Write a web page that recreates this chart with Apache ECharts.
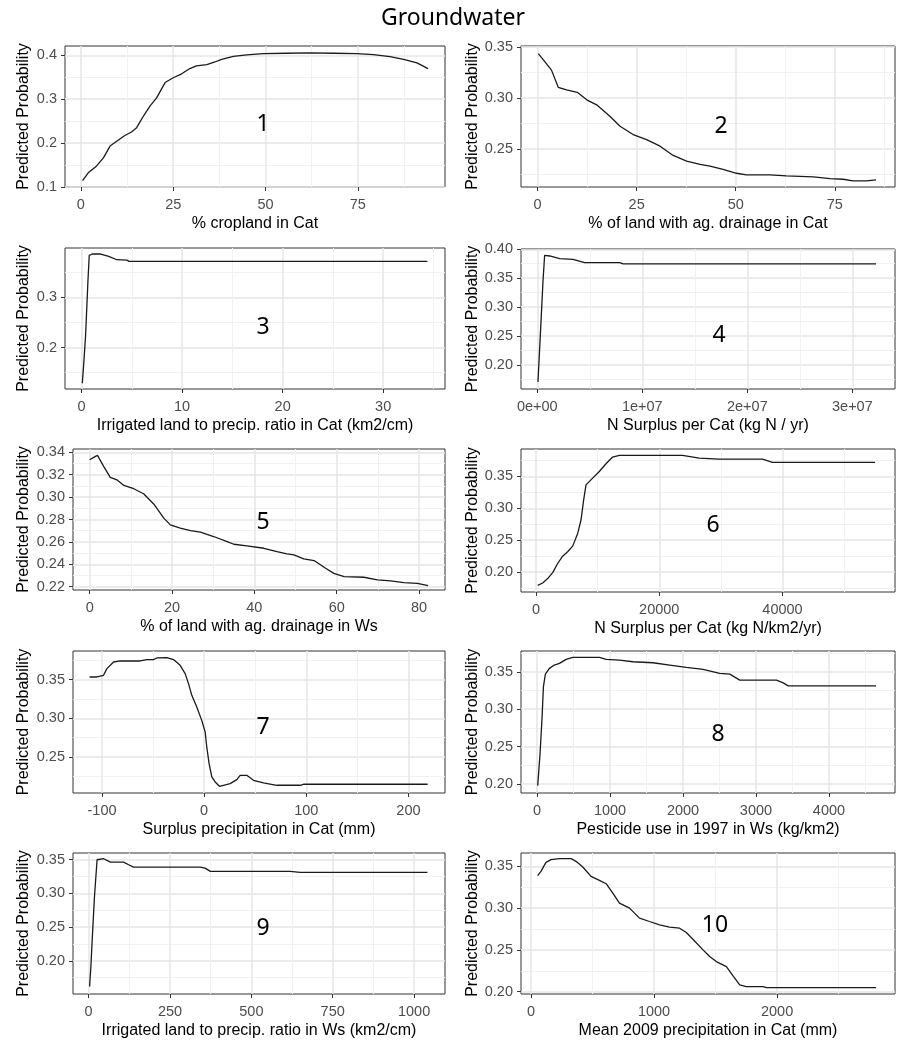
<!DOCTYPE html>
<html><head><meta charset="utf-8">
<script src="https://cdn.jsdelivr.net/npm/echarts@6/dist/echarts.min.js"></script>
<style>html,body{margin:0;padding:0;background:#fff}#c{width:906px;height:1050px}</style>
</head><body><div id="c"></div>
<script>
// ---------- data ----------
const chartTitle = 'Groundwater';
const yAxisTitle = 'Predicted Probability';
const xTitles = [
  '% cropland in Cat',
  '% of land with ag. drainage in Cat',
  'Irrigated land to precip. ratio in Cat (km2/cm)',
  'N Surplus per Cat (kg N / yr)',
  '% of land with ag. drainage in Ws',
  'N Surplus per Cat (kg N/km2/yr)',
  'Surplus precipitation in Cat (mm)',
  'Pesticide use in 1997 in Ws (kg/km2)',
  'Irrigated land to precip. ratio in Ws (km2/cm)',
  'Mean 2009 precipitation in Cat (mm)'
];
const panelNumbers = ['1','2','3','4','5','6','7','8','9','10'];

const p1X = [0.45,2.0,4.2,6.1,7.9,9.7,11.9,13.7,15.1,16.9,18.7,20.5,22.8,25.0,27.3,29.5,31.3,34.1,36.3,38.1,41.3,44.9,49.4,55.7,62.1,68.4,74.7,79.2,83.7,87.4,91.0,94.0];
const p1Y = [0.114,0.132,0.147,0.166,0.193,0.204,0.217,0.225,0.235,0.261,0.284,0.303,0.338,0.349,0.358,0.370,0.376,0.379,0.385,0.391,0.398,0.401,0.404,0.405,0.406,0.405,0.404,0.402,0.397,0.391,0.383,0.370];

const p2X = [0.17,1.85,3.5,5.2,7.3,10.0,12.4,14.9,18.3,20.8,24.1,27.5,30.9,34.2,37.6,41.0,43.5,46.8,50.2,52.7,58.6,62.8,69.6,73.8,77.1,79.6,83.0,85.4];
const p2Y = [0.3435,0.3354,0.3273,0.3104,0.3078,0.3055,0.2981,0.2932,0.2818,0.2721,0.2640,0.2591,0.2526,0.2435,0.2380,0.2347,0.2331,0.2299,0.2260,0.2244,0.2244,0.2234,0.2224,0.2208,0.2201,0.2185,0.2185,0.2195];

const p3X = [0.07,0.23,0.4,0.63,0.76,1.06,1.9,2.7,3.5,4.5,4.7,11.8,34.4];
const p3Y = [0.1287,0.172,0.2253,0.332,0.384,0.3867,0.3867,0.382,0.3753,0.3747,0.372,0.372,0.372];

const p4X = [64000,290000,540000,700000,1180000,2130000,3400000,4510000,7850000,8170000,32250000];
const p4Y = [0.170,0.2509,0.3434,0.3896,0.3884,0.3838,0.3827,0.3769,0.3769,0.3746,0.3746];

const p5X = [0,1.38,1.9,3.4,5.0,6.6,8.3,10.7,13.1,15.6,18.0,19.6,22.0,24.5,26.9,30.1,33.4,35.0,38.2,42.3,45.5,47.9,49.6,52.0,54.5,57.3,59.3,61.8,66.6,69.9,73.1,76.3,79.6,82.2];
const p5Y = [0.3334,0.3364,0.3373,0.3275,0.3176,0.3155,0.3104,0.3075,0.3030,0.2937,0.2812,0.2752,0.2722,0.2701,0.2687,0.2648,0.2603,0.2579,0.2564,0.2543,0.2513,0.2493,0.2484,0.2448,0.2433,0.2364,0.2319,0.2290,0.2284,0.2260,0.2251,0.2236,0.2230,0.2209];

const p6X = [270,1080,1890,2700,3510,4320,5130,5950,6760,7300,7730,8110,9190,10270,11350,12430,13510,23780,26490,29730,36760,38380,55030];
const p6Y = [0.1789,0.1826,0.1895,0.1989,0.2132,0.2247,0.2316,0.2405,0.2605,0.2816,0.3132,0.3368,0.3474,0.3579,0.3700,0.3805,0.3832,0.3832,0.3789,0.3774,0.3774,0.3721,0.3721];

const p7X = [-112.2,-105.0,-98.5,-95.2,-88.7,-82.2,-62.6,-56.1,-49.6,-46.3,-36.5,-30.0,-23.5,-18.6,-15.3,-12.1,-7.2,-2.3,1.0,2.6,4.9,7.5,10.8,15.0,18.9,25.4,32.0,35.2,41.7,48.3,58.0,71.1,93.9,97.2,218.8];
const p7Y = [0.3534,0.3534,0.3556,0.3642,0.3728,0.3741,0.3741,0.3759,0.3759,0.3780,0.3784,0.3759,0.3685,0.3578,0.3448,0.3297,0.3147,0.2970,0.2823,0.2625,0.2410,0.2241,0.2177,0.2121,0.2134,0.2155,0.2207,0.2263,0.2263,0.2198,0.2164,0.2134,0.2134,0.2147,0.2147];

const p8X = [9,41,69,87,114,169,238,307,398,490,856,947,1130,1314,1588,1817,2046,2275,2503,2641,2778,2870,3281,3373,3442,4645];
const p8Y = [0.1977,0.2403,0.2895,0.3298,0.3469,0.3545,0.3590,0.3612,0.3666,0.3693,0.3693,0.3666,0.3657,0.3634,0.3621,0.3590,0.3558,0.3531,0.3478,0.3469,0.3388,0.3388,0.3388,0.3352,0.3312,0.3312];

const p9X = [3,7,12,18,26,29,46,67,107,123,138,343,358,374,619,650,1041];
const p9Y = [0.1619,0.1916,0.2411,0.2955,0.35,0.3515,0.3515,0.3465,0.3465,0.3426,0.3391,0.3391,0.3376,0.3327,0.3327,0.3312,0.3312];

const p10X = [54,81,122,163,231,326,366,421,488,556,611,665,719,801,882,963,1045,1126,1208,1262,1316,1398,1452,1506,1588,1642,1696,1750,1886,1913,2803];
const p10Y = [0.3388,0.344,0.3548,0.358,0.3592,0.3592,0.356,0.3492,0.338,0.3332,0.3292,0.318,0.306,0.300,0.288,0.284,0.280,0.2772,0.276,0.2708,0.2628,0.250,0.242,0.236,0.230,0.2188,0.208,0.206,0.206,0.2048,0.2048];

// tick values (major / minor) and axis ranges
const p1XTicks = [0,25,50,75], p1XMinor = [12.5,37.5,62.5,87.5], p1YTicks = [0.1,0.2,0.3,0.4], p1YMinor = [0.15,0.25,0.35];
const p2XTicks = [0,25,50,75], p2XMinor = [12.5,37.5,62.5,87.5], p2YTicks = [0.25,0.30,0.35], p2YMinor = [0.225,0.275,0.325];
const p3XTicks = [0,10,20,30], p3XMinor = [5,15,25,35], p3YTicks = [0.2,0.3], p3YMinor = [0.15,0.25,0.35];
const p4XTicks = [0,1e7,2e7,3e7], p4XMinor = [5e6,1.5e7,2.5e7], p4YTicks = [0.20,0.25,0.30,0.35,0.40], p4YMinor = [0.175,0.225,0.275,0.325,0.375];
const p4XLabels = ['0e+00','1e+07','2e+07','3e+07'];
const p5XTicks = [0,20,40,60,80], p5XMinor = [10,30,50,70], p5YTicks = [0.22,0.24,0.26,0.28,0.30,0.32,0.34], p5YMinor = [0.23,0.25,0.27,0.29,0.31,0.33];
const p6XTicks = [0,20000,40000], p6XMinor = [10000,30000,50000], p6YTicks = [0.20,0.25,0.30,0.35], p6YMinor = [0.175,0.225,0.275,0.325,0.375];
const p7XTicks = [-100,0,100,200], p7XMinor = [-50,50,150], p7YTicks = [0.25,0.30,0.35], p7YMinor = [0.225,0.275,0.325,0.375];
const p8XTicks = [0,1000,2000,3000,4000], p8XMinor = [500,1500,2500,3500,4500], p8YTicks = [0.20,0.25,0.30,0.35], p8YMinor = [0.225,0.275,0.325,0.375];
const p9XTicks = [0,250,500,750,1000], p9XMinor = [125,375,625,875], p9YTicks = [0.20,0.25,0.30,0.35], p9YMinor = [0.175,0.225,0.275,0.325];
const p10XTicks = [0,1000,2000], p10XMinor = [500,1500,2500], p10YTicks = [0.20,0.25,0.30,0.35], p10YMinor = [0.225,0.275,0.325];

// ---------- layout ----------
const panels = [
  {xs:p1X, ys:p1Y, xr:[-4.3,98.6], yr:[0.0995,0.4215], xt:p1XTicks, xm:p1XMinor, yt:p1YTicks, ym:p1YMinor, yd:1, g:[65,46,380,141], num:[263,124]},
  {xs:p2X, ys:p2Y, xr:[-4.2,90.2], yr:[0.2125,0.351], xt:p2XTicks, xm:p2XMinor, yt:p2YTicks, ym:p2YMinor, yd:2, g:[521,46,374,141], num:[721,126]},
  {xs:p3X, ys:p3Y, xr:[-1.65,36.15], yr:[0.1173,0.3987], xt:p3XTicks, xm:p3XMinor, yt:p3YTicks, ym:p3YMinor, yd:1, g:[65,248,380,141], num:[263,327]},
  {xs:p4X, ys:p4Y, xr:[-1.55e6,3.406e7], yr:[0.158,0.4005], xt:p4XTicks, xm:p4XMinor, yt:p4YTicks, ym:p4YMinor, yd:2, xl:p4XLabels, g:[521,249,374,140], num:[719,335]},
  {xs:p5X, ys:p5Y, xr:[-4.05,86.3], yr:[0.217,0.343], xt:p5XTicks, xm:p5XMinor, yt:p5YTicks, ym:p5YMinor, yd:2, g:[73,449,372,141], num:[263,522]},
  {xs:p6X, ys:p6Y, xr:[-2440,58260], yr:[0.1684,0.3932], xt:p6XTicks, xm:p6XMinor, yt:p6YTicks, ym:p6YMinor, yd:2, g:[521,449,374,143], num:[713,525]},
  {xs:p7X, ys:p7Y, xr:[-128.4,235.8], yr:[0.2034,0.387], xt:p7XTicks, xm:p7XMinor, yt:p7YTicks, ym:p7YMinor, yd:2, g:[73,651,372,142], num:[263,727]},
  {xs:p8X, ys:p8Y, xr:[-220,4905], yr:[0.1878,0.3778], xt:p8XTicks, xm:p8XMinor, yt:p8YTicks, ym:p8YMinor, yd:2, g:[521,651,374,142], num:[718,734]},
  {xs:p9X, ys:p9Y, xr:[-48,1095], yr:[0.1507,0.360], xt:p9XTicks, xm:p9XMinor, yt:p9YTicks, ym:p9YMinor, yd:2, g:[73,853,372,141], num:[263,928]},
  {xs:p10X, ys:p10Y, xr:[-81,2958], yr:[0.1972,0.366], xt:p10XTicks, xm:p10XMinor, yt:p10YTicks, ym:p10YMinor, yd:2, g:[521,853,374,141], num:[715,925]}
];

const tickFont = {fontFamily:'Liberation Sans, Arial, sans-serif', fontSize:14.5, color:'#4d4d4d'};
const nameFont = {fontFamily:'Liberation Sans, Arial, sans-serif', fontSize:16, color:'#000'};
const majorGrid = {show:true, lineStyle:{color:'#e6e6e6', width:1.5}};
const minorGrid = {show:true, lineStyle:{color:'#f1f1f1', width:1}};

const grid = [], xAxis = [], yAxis = [], series = [], graphic = [];
panels.forEach((p, i) => {
  grid.push({left:p.g[0], top:p.g[1], width:p.g[2], height:p.g[3], show:true,
    backgroundColor:'#fff', borderColor:'#333333', borderWidth:1, containLabel:false});
  const leftCol = p.g[0] < 400;
  const yGap = leftCol ? p.g[0] - 32 : p.g[0] - 482;
  xAxis.push({type:'value', gridIndex:i, min:p.xr[0], max:p.xr[1], position:'bottom',
    name:xTitles[i], nameLocation:'middle', nameGap:29, nameTextStyle:nameFont,
    axisLine:{show:false, onZero:false},
    axisTick:{show:true, inside:false, length:4, customValues:p.xt, lineStyle:{color:'#333', width:1}},
    axisLabel:{show:true, customValues:p.xt, margin:10, ...tickFont,
      formatter: v => p.xl ? p.xl[p.xt.indexOf(v)] : String(v)},
    splitLine:majorGrid});
  xAxis.push({type:'value', gridIndex:i, min:p.xr[0], max:p.xr[1], position:'top',
    axisLine:{show:false, onZero:false}, axisTick:{show:false, customValues:p.xm},
    axisLabel:{show:false, customValues:p.xm}, splitLine:minorGrid});
  yAxis.push({type:'value', gridIndex:i, min:p.yr[0], max:p.yr[1], position:'left',
    name:yAxisTitle, nameLocation:'middle', nameGap:yGap, nameTextStyle:nameFont,
    axisLine:{show:false, onZero:false},
    axisTick:{show:true, inside:false, length:4, customValues:p.yt, lineStyle:{color:'#333', width:1}},
    axisLabel:{show:true, customValues:p.yt, margin:8, ...tickFont,
      formatter: v => Number(v).toFixed(p.yd)},
    splitLine:majorGrid});
  yAxis.push({type:'value', gridIndex:i, min:p.yr[0], max:p.yr[1], position:'right',
    axisLine:{show:false, onZero:false}, axisTick:{show:false, customValues:p.ym},
    axisLabel:{show:false, customValues:p.ym}, splitLine:minorGrid});
  series.push({type:'line', xAxisIndex:2*i, yAxisIndex:2*i, showSymbol:false, silent:true,
    lineStyle:{color:'#1a1a1a', width:1.3}, z:5,
    data:p.xs.map((x, k) => [x, p.ys[k]])});
  graphic.push({type:'text', x:p.num[0], y:p.num[1], z:10,
    style:{text:panelNumbers[i], fontSize:23, fontFamily:'Noto Sans', fill:'#000',
      align:'center', verticalAlign:'middle'}});
});

const chart = echarts.init(document.getElementById('c'), null, {renderer:'canvas'});
chart.setOption({
  animation:false,
  backgroundColor:'#fff',
  title:{text:chartTitle, left:'center', top:2,
    textStyle:{fontFamily:'Noto Sans', fontSize:23, fontWeight:'normal', color:'#000'}},
  grid, xAxis, yAxis, series, graphic
});
</script></body></html>
